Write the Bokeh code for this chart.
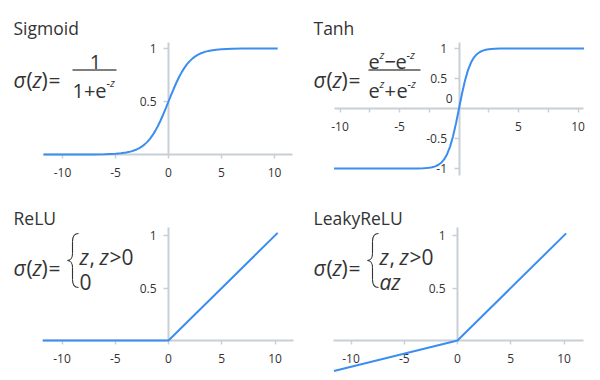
from bokeh.plotting import figure
from bokeh.models import Label, LinearAxis, FixedTicker, NumeralTickFormatter, Range1d
from bokeh.layouts import gridplot
from bokeh.embed import file_html
from bokeh.resources import INLINE

FONT = "Open Sans"
BLUE = "#3a8ef0"
AXIS = "#c8cfd5"
TEXT = "#333333"

# ---------------- data ----------------
titles = ["Sigmoid", "Tanh", "ReLU", "LeakyReLU"]

sigmoid_x = [-11.8, -11, -10, -9, -8, -7, -6, -5, -4.5, -4, -3.5, -3, -2.75, -2.5, -2.25, -2,
             -1.75, -1.5, -1.25, -1, -0.75, -0.5, -0.25, 0, 0.25, 0.5, 0.75, 1, 1.25, 1.5,
             1.75, 2, 2.25, 2.5, 2.75, 3, 3.5, 4, 4.5, 5, 6, 7, 8, 9, 10, 10.3]
sigmoid_y = [0.0, 0.0, 0.0, 0.0001, 0.0003, 0.0009, 0.0025, 0.0067, 0.0110, 0.0180, 0.0293,
             0.0474, 0.0601, 0.0759, 0.0953, 0.1192, 0.1480, 0.1824, 0.2227, 0.2689, 0.3208,
             0.3775, 0.4378, 0.5, 0.5622, 0.6225, 0.6792, 0.7311, 0.7773, 0.8176, 0.8520,
             0.8808, 0.9047, 0.9241, 0.9399, 0.9526, 0.9707, 0.9820, 0.9890, 0.9933, 0.9975,
             0.9991, 0.9997, 0.9999, 1.0, 1.0]

tanh_x = [-10.5, -9, -7, -6, -5, -4, -3.5, -3, -2.75, -2.5, -2.25, -2, -1.75, -1.5, -1.25,
          -1, -0.75, -0.5, -0.25, 0, 0.25, 0.5, 0.75, 1, 1.25, 1.5, 1.75, 2, 2.25, 2.5,
          2.75, 3, 3.5, 4, 5, 6, 7, 9, 10.5]
tanh_y = [-1.0, -1.0, -1.0, -1.0, -0.9999, -0.9993, -0.9982, -0.9951, -0.9919, -0.9866,
          -0.9780, -0.9640, -0.9414, -0.9051, -0.8483, -0.7616, -0.6351, -0.4621, -0.2449,
          0.0, 0.2449, 0.4621, 0.6351, 0.7616, 0.8483, 0.9051, 0.9414, 0.9640, 0.9780,
          0.9866, 0.9919, 0.9951, 0.9982, 0.9993, 0.9999, 1.0, 1.0, 1.0, 1.0]

relu_x = [-11.8, 0, 10.25]
relu_y = [0.0, 0.0, 1.025]

leaky_x = [-11.6, 0, 10.2]
leaky_y = [-0.29, 0.0, 1.02]

xticks_a = [-10, -5, 0, 5, 10]
xticks_tanh = [-10, -5, 5, 10]
xminor_tanh = [-7.5, -2.5, 2.5, 7.5]
yticks_a = [0.5, 1]
yticks_tanh = [-1, -0.5, 0.5, 1]

# ---------------- layout helpers ----------------
W, H = 296, 188


class Panel:
    def __init__(self, ox, oy, x0, kx, y0, ky):
        self.ox, self.oy, self.x0, self.kx, self.y0, self.ky = ox, oy, x0, kx, y0, ky
        self.p = figure(width=W, height=H,
                        x_range=Range1d((ox - x0) / kx, (ox + W - x0) / kx),
                        y_range=Range1d((y0 - oy - H) / ky, (y0 - oy) / ky),
                        x_axis_location=None, y_axis_location=None,
                        toolbar_location=None, output_backend="svg",
                        min_border=0, outline_line_color=None)
        self.p.xgrid.visible = False
        self.p.ygrid.visible = False

    def d(self, sx, sy):
        return (sx - self.x0) / self.kx, (self.y0 - sy) / self.ky

    def text(self, sx, sy, txt, size, style="normal", align="left", baseline="alphabetic", color=TEXT):
        x, y = self.d(sx, sy)
        self.p.add_layout(Label(x=x, y=y, text=txt, text_font=FONT,
                                text_font_size=f"{size}px", text_font_style=style,
                                text_align=align, text_baseline=baseline, text_color=color))

    def axes(self, xb, yb, xt, yt, xminor=None):
        fmt = NumeralTickFormatter(format="0.[0]")
        xa = LinearAxis(fixed_location=0, bounds=xb,
                        ticker=FixedTicker(ticks=xt, minor_ticks=xminor or []), formatter=fmt)
        ya = LinearAxis(fixed_location=0, bounds=yb,
                        ticker=FixedTicker(ticks=yt, minor_ticks=[]), formatter=fmt)
        for a in (xa, ya):
            a.axis_line_color = AXIS
            a.axis_line_width = 2
            a.major_tick_line_color = AXIS
            a.major_tick_line_width = 1.5
            a.minor_tick_line_color = AXIS
            a.minor_tick_line_width = 1.5
            a.major_tick_in = 0
            a.minor_tick_in = 0
            a.major_label_text_font = FONT
            a.major_label_text_font_size = "12px"
            a.major_label_text_color = TEXT
        xa.major_tick_out = 4
        xa.minor_tick_out = 4
        xa.major_label_standoff = 9
        ya.major_tick_out = 5
        ya.major_label_standoff = 7
        self.p.add_layout(xa, "below")
        self.p.add_layout(ya, "left")

    def curve(self, xs, ys):
        r = self.p.line(xs, ys, line_color=BLUE, line_width=2)
        r.level = "overlay"

    def bar(self, sx0, sx1, sy):
        x0, y = self.d(sx0, sy)
        x1, _ = self.d(sx1, sy)
        self.p.segment(x0=[x0], y0=[y], x1=[x1], y1=[y], line_color="#555555", line_width=1.3)

    def sigma(self, sx, base):
        self.text(sx, base, "σ", 21, "italic")
        self.text(sx + 13, base, "(", 21)
        self.text(sx + 19, base, "z", 21, "italic")
        self.text(sx + 28, base, ")", 21)
        self.text(sx + 35, base, "=", 21)

    def brace(self, sx, top, bot):
        mid = (top + bot) / 2
        pts = [
            ((sx + 10, top), (sx + 6, top), (sx + 4, top + 3), (sx + 4, top + 8)),
            ((sx + 4, top + 8), (sx + 4, top + 12), (sx + 4, mid - 11), (sx + 4, mid - 7)),
            ((sx + 4, mid - 7), (sx + 4, mid - 3), (sx + 2, mid), (sx - 1, mid)),
            ((sx - 1, mid), (sx + 2, mid), (sx + 4, mid + 3), (sx + 4, mid + 7)),
            ((sx + 4, mid + 7), (sx + 4, mid + 11), (sx + 4, bot - 12), (sx + 4, bot - 8)),
            ((sx + 4, bot - 8), (sx + 4, bot - 3), (sx + 6, bot), (sx + 10, bot)),
        ]
        cols = {k: [] for k in ("x0", "y0", "cx0", "cy0", "cx1", "cy1", "x1", "y1")}
        for a, c0, c1, b in pts:
            for (kx, ky), pt in zip((("x0", "y0"), ("cx0", "cy0"), ("cx1", "cy1"), ("x1", "y1")),
                                    (a, c0, c1, b)):
                dx, dy = self.d(*pt)
                cols[kx].append(dx)
                cols[ky].append(dy)
        self.p.bezier(line_color="#333333", line_width=1.1, **cols)


# ---------------- Sigmoid ----------------
p1 = Panel(0, 0, 168, 10.6, 154, 106)
p1.axes((-11.8, 11.7), (0, 1.06), xticks_a, yticks_a)
p1.curve(sigmoid_x, sigmoid_y)
p1.text(13, 27, titles[0], 17.5)
p1.sigma(13, 79)
p1.text(95, 61, "1", 20, align="center")
p1.bar(72, 116, 69.5)
p1.text(72, 90, "1+e", 20)
p1.text(106, 82, "-z", 11, "italic")

# ---------------- Tanh ----------------
p2 = Panel(296, 0, 458.5, 11.9, 108, 60)
p2.axes((-10.5, 10.5), (-1.12, 1.1), xticks_tanh, yticks_tanh, xminor_tanh)
p2.curve(tanh_x, tanh_y)
p2.text(313, 27, titles[1], 17.5)
p2.sigma(313, 79)
p2.text(368, 61, "e", 20)
p2.text(379, 54, "z", 11, "italic")
p2.text(384, 61, "−", 20)
p2.text(395, 61, "e", 20)
p2.text(406, 54, "-z", 11, "italic")
p2.bar(368, 420, 69.5)
p2.text(368, 90, "e", 20)
p2.text(379, 83, "z", 11, "italic")
p2.text(384, 90, "+", 20)
p2.text(396, 90, "e", 20)
p2.text(407, 83, "-z", 11, "italic")
p2.text(452, 98, "0", 12, align="right", baseline="middle")

# ---------------- ReLU ----------------
p3 = Panel(0, 188, 168, 10.65, 340, 105)
p3.axes((-11.8, 11.7), (0, 1.08), xticks_a, yticks_a)
p3.curve(relu_x, relu_y)
p3.text(13, 217, titles[2], 17.5)
p3.sigma(13, 267)
p3.brace(68, 233, 287)
p3.text(79, 256, "z", 21, "italic")
p3.text(89, 256, ",", 21)
p3.text(99, 256, "z", 21, "italic")
p3.text(109, 256, ">0", 21)
p3.text(79, 281, "0", 21)

# ---------------- LeakyReLU ----------------
p4 = Panel(296, 188, 457, 10.65, 340, 105)
p4.axes((-11.6, 11.8), (0, 1.08), xticks_a, yticks_a)
p4.curve(leaky_x, leaky_y)
p4.text(313, 217, titles[3], 17.5)
p4.sigma(313, 267)
p4.brace(368, 233, 287)
p4.text(379, 256, "z", 21, "italic")
p4.text(389, 256, ",", 21)
p4.text(399, 256, "z", 21, "italic")
p4.text(409, 256, ">0", 21)
p4.text(379, 281, "az", 21, "italic")

grid = gridplot([[p1.p, p2.p], [p3.p, p4.p]], toolbar_location=None)
open("out.html", "w").write(file_html(grid, INLINE))
